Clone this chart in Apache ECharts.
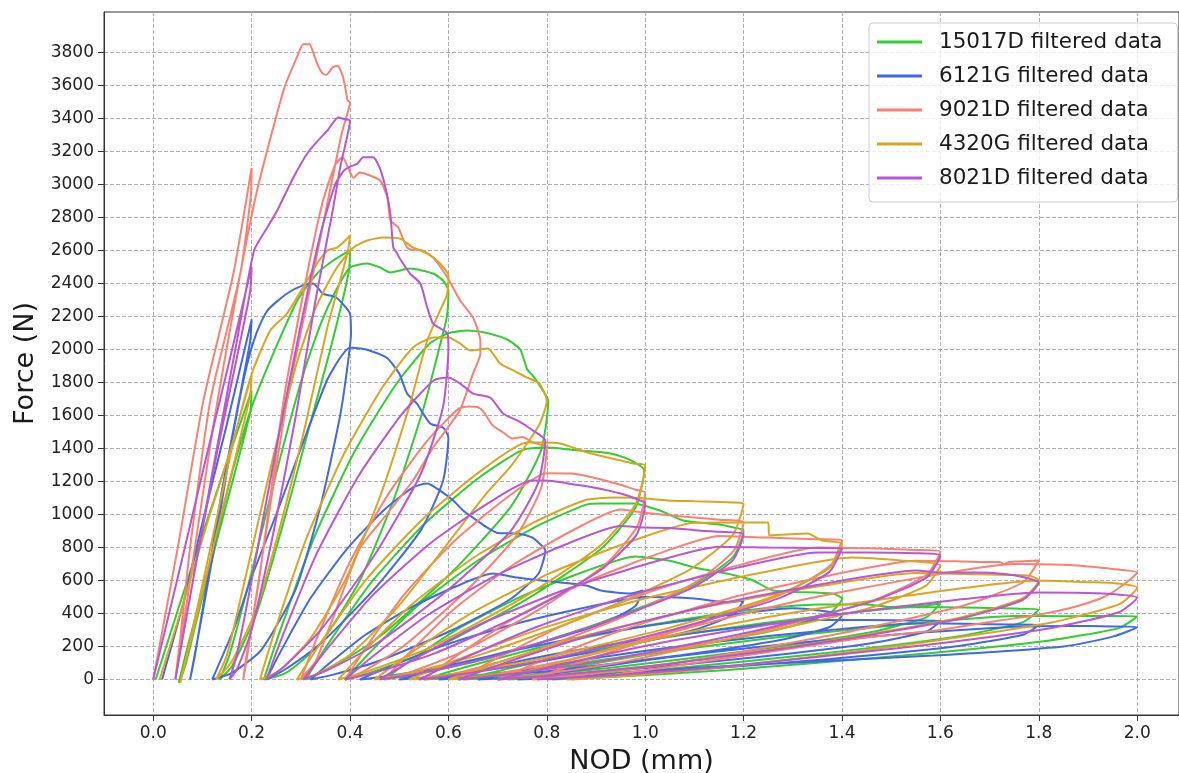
<!DOCTYPE html>
<html><head><meta charset="utf-8">
<script src="https://cdn.jsdelivr.net/npm/echarts@6/dist/echarts.min.js"></script>
<style>html,body{margin:0;padding:0;background:#fff}#c{width:1179px;height:773px}</style>
</head><body><div id="c"></div>
<script>
const xTicks = [0,0.2,0.4,0.6,0.8,1.0,1.2,1.4,1.6,1.8,2.0];
const yTicks = [0,200,400,600,800,1000,1200,1400,1600,1800,2000,2200,2400,2600,2800,3000,3200,3400,3600,3800];
const seriesNames = ['15017D filtered data','6121G filtered data','9021D filtered data','4320G filtered data','8021D filtered data'];
const seriesColors = ['#32cd32','#4169e1','#fa8072','#daa520','#ba55d3'];

const s15017D = [[0.005,0],[0.05,420],[0.1,880],[0.15,1320],[0.2,1750],
[0.197,1620],[0.17,1300],[0.13,850],[0.09,380],[0.065,80],[0.052,-20],
[0.07,200],[0.11,650],[0.16,1250],[0.2,1650],[0.244,1975],[0.293,2297],[0.333,2460],[0.366,2539],[0.4,2600],
[0.398,2480],[0.385,2300],[0.36,2000],[0.31,1450],[0.26,900],[0.21,400],[0.16,80],[0.135,0],
[0.155,150],[0.2,650],[0.25,1250],[0.3,1800],[0.34,2150],[0.37,2350],[0.4,2497],[0.435,2521],[0.461,2497],[0.482,2467],[0.522,2490],[0.569,2460],[0.589,2418],[0.6,2357],
[0.597,2200],[0.585,2050],[0.55,1650],[0.49,1100],[0.42,600],[0.34,220],[0.27,40],[0.225,0],
[0.259,305],[0.326,853],[0.409,1380],[0.493,1786],[0.56,2030],[0.598,2097],[0.638,2115],[0.679,2100],[0.72,2060],[0.746,2000],[0.76,1880],[0.772,1840],[0.79,1760],[0.803,1690],
[0.788,1386],[0.727,1048],[0.604,641],[0.457,253],[0.359,68],[0.31,0],
[0.354,209],[0.442,584],[0.552,945],[0.662,1223],[0.75,1390],[0.8,1406],[0.866,1388],[0.93,1370],[0.97,1330],[0.998,1267],
[0.98,1039],[0.908,786],[0.756,481],[0.573,190],[0.451,51],[0.39,0],
[0.439,159],[0.537,445],[0.66,721],[0.782,933],[0.88,1060],[0.91,1067],[0.976,1067],[1.03,1024],[1.077,964],[1.15,940],[1.18,921],[1.2,903],
[1.178,740],[1.09,560],[0.908,343],[0.689,135],[0.543,36],[0.47,0],
[0.521,112],[0.623,313],[0.751,507],[0.878,656],[0.98,745],[1.05,720],[1.1,679],[1.17,640],[1.2,618],[1.22,600],[1.26,540],[1.38,521],[1.4,490],
[1.375,402],[1.273,304],[1.06,186],[0.805,74],[0.635,20],[0.55,0],
[0.63,71],[0.79,197],[0.99,320],[1.19,414],[1.35,455],[1.45,455],[1.5,440],[1.56,445],[1.6,460],
[1.571,377],[1.455,285],[1.212,175],[0.921,69],[0.727,18],[0.63,0],
[0.722,66],[0.906,185],[1.136,299],[1.366,387],[1.55,440],[1.65,436],[1.75,430],[1.8,424],
[1.768,348],[1.638,263],[1.368,161],[1.044,64],[0.828,17],[0.72,0],
[0.823,58],[1.029,162],[1.287,262],[1.544,339],[1.75,385],[1.85,384],[1.95,385],[2.0,382],
[1.964,313],[1.822,237],[1.524,145],[1.167,57],[0.929,15],[0.81,0]];

const s6121G = [[0.018,0],[0.06,450],[0.1,950],[0.15,1550],[0.2,2180],
[0.197,2050],[0.175,1700],[0.14,1150],[0.11,600],[0.085,150],[0.075,0],
[0.1,400],[0.13,900],[0.16,1450],[0.19,1900],[0.21,2100],[0.232,2236],[0.272,2339],[0.305,2390],[0.325,2400],[0.345,2339],[0.372,2315],[0.39,2260],[0.4,2218],[0.402,2100],
[0.395,1900],[0.38,1600],[0.34,1050],[0.29,550],[0.22,180],[0.16,40],[0.12,0],
[0.163,300],[0.2,620],[0.25,1000],[0.3,1400],[0.353,1812],[0.38,1950],[0.4,2012],[0.433,2000],[0.474,1951],[0.5,1855],[0.516,1733],[0.536,1672],[0.563,1551],[0.589,1527],[0.6,1467],
[0.589,1203],[0.545,910],[0.452,557],[0.341,220],[0.267,59],[0.23,0],
[0.26,175],[0.319,489],[0.394,792],[0.468,1024],[0.528,1164],[0.557,1188],[0.583,1145],[0.61,1085],[0.63,1024],[0.658,964],[0.679,921],[0.7,888],[0.74,885],[0.77,861],[0.785,824],[0.797,782],
[0.783,641],[0.725,485],[0.606,297],[0.463,117],[0.368,31],[0.32,0],
[0.357,96],[0.431,270],[0.524,437],[0.616,565],[0.69,642],[0.74,618],[0.79,600],[0.88,570],[0.91,539],[0.97,521],[0.996,539],
[0.979,442],[0.91,334],[0.766,205],[0.593,81],[0.478,22],[0.42,0],
[0.478,75],[0.594,210],[0.739,340],[0.884,440],[1.0,500],[1.1,491],[1.17,467],[1.2,479],
[1.179,393],[1.095,297],[0.92,182],[0.71,72],[0.57,19],[0.5,0],
[0.58,65],[0.74,181],[0.94,294],[1.14,380],[1.3,432],[1.35,420],[1.4,388],
[1.375,318],[1.277,241],[1.072,147],[0.826,58],[0.662,16],[0.58,0],
[0.657,54],[0.811,151],[1.004,245],[1.196,317],[1.35,360],[1.45,360],[1.55,358],[1.6,355],
[1.572,291],[1.459,220],[1.224,135],[0.942,53],[0.754,14],[0.66,0],
[0.749,51],[0.927,143],[1.15,231],[1.372,299],[1.55,340],[1.65,338],[1.75,333],[1.8,330],
[1.768,271],[1.641,205],[1.376,125],[1.058,50],[0.846,13],[0.74,0],
[0.841,48],[1.043,134],[1.296,218],[1.548,282],[1.75,320],[1.85,325],[1.95,322],[2.0,317],
[1.95,260],[1.85,200],[1.585,145],[1.11,73],[0.9,25],[0.82,5],[0.8,0]];

const s9021D = [[0,0],[0.05,800],[0.102,1690],[0.163,2460],[0.2,3100],
[0.199,2950],[0.177,2460],[0.116,1690],[0.075,800],[0.055,250],[0.045,0],
[0.07,500],[0.12,1500],[0.17,2350],[0.21,2950],[0.24,3300],[0.267,3590],[0.292,3770],[0.305,3850],[0.318,3850],[0.325,3800],[0.335,3720],[0.345,3670],[0.352,3665],[0.365,3710],[0.375,3720],[0.385,3660],[0.392,3560],[0.395,3510],[0.4,3500],
[0.385,3330],[0.38,3266],[0.325,2460],[0.272,1690],[0.235,1000],[0.205,420],[0.19,120],[0.183,0],
[0.19,150],[0.215,600],[0.265,1690],[0.313,2460],[0.345,2900],[0.37,3120],[0.385,3165],[0.395,3110],[0.407,3040],[0.42,3073],[0.441,3054],[0.461,3024],[0.476,2921],[0.482,2782],[0.498,2739],[0.518,2612],[0.547,2600],[0.569,2557],[0.598,2436],[0.624,2297],[0.65,2194],[0.66,2115],[0.665,2054],[0.665,1976],
[0.65,1854],[0.623,1630],[0.569,1406],[0.528,1206],[0.476,1006],[0.421,800],[0.394,600],[0.36,330],[0.33,110],[0.305,20],[0.3,0],
[0.332,246],[0.396,689],[0.476,1115],[0.556,1443],[0.62,1640],[0.64,1655],[0.66,1650],[0.672,1620],[0.69,1540],[0.71,1500],[0.73,1460],[0.75,1470],[0.77,1440],[0.79,1420],[0.8,1410],
[0.788,1156],[0.739,874],[0.636,536],[0.513,212],[0.431,56],[0.39,0],
[0.431,188],[0.513,525],[0.616,850],[0.718,1100],[0.8,1250],[0.85,1248],[0.9,1220],[0.95,1180],[0.98,1150],[1.0,1133],
[0.984,929],[0.921,702],[0.788,431],[0.629,170],[0.523,45],[0.47,0],
[0.518,155],[0.614,433],[0.734,700],[0.854,906],[0.95,1030],[1.0,1010],[1.05,995],[1.1,982],[1.15,968],[1.2,952],
[1.18,781],[1.103,590],[0.94,362],[0.745,143],[0.615,38],[0.55,0],
[0.61,131],[0.73,365],[0.88,592],[1.03,766],[1.15,870],[1.25,860],[1.35,850],[1.4,845],
[1.377,693],[1.283,524],[1.088,321],[0.854,127],[0.698,34],[0.62,0],
[0.693,120],[0.839,336],[1.022,544],[1.204,704],[1.35,800],[1.45,795],[1.55,785],[1.6,776],
[1.573,636],[1.465,481],[1.24,295],[0.97,116],[0.79,31],[0.7,0],
[0.785,108],[0.955,302],[1.168,490],[1.38,634],[1.55,720],[1.65,715],[1.7,712],[1.72,712],[1.73,700],[1.74,712],[1.8,721],
[1.769,591],[1.646,447],[1.388,274],[1.079,108],[0.873,29],[0.77,0],
[0.868,105],[1.064,294],[1.309,476],[1.554,616],[1.75,700],[1.85,695],[1.9,685],[1.95,670],[2.0,648],
[1.97,570],[1.93,497],[1.86,430],[1.79,388],[1.72,358],[1.59,297],[1.45,255],[1.31,194],[1.1,100],[0.95,35],[0.87,5],[0.85,0]];

const s4320G = [[0.013,0],[0.06,450],[0.11,950],[0.16,1420],[0.2,1850],
[0.197,1720],[0.17,1380],[0.13,900],[0.09,400],[0.065,100],[0.055,-20],
[0.08,300],[0.12,850],[0.16,1400],[0.2,1850],[0.238,2115],[0.272,2218],[0.313,2418],[0.333,2521],[0.354,2600],[0.374,2618],[0.386,2648],[0.4,2691],
[0.396,2600],[0.38,2418],[0.354,2133],[0.31,1550],[0.26,950],[0.21,430],[0.16,110],[0.128,0],
[0.15,150],[0.19,650],[0.24,1300],[0.29,1900],[0.33,2250],[0.37,2480],[0.407,2618],[0.435,2660],[0.467,2679],[0.502,2672],[0.528,2618],[0.557,2582],[0.583,2521],[0.6,2448],
[0.597,2330],[0.583,2236],[0.557,2054],[0.52,1650],[0.46,1100],[0.39,600],[0.32,250],[0.255,50],[0.217,0],
[0.248,302],[0.31,845],[0.388,1368],[0.466,1771],[0.528,2012],[0.57,2072],[0.6,2072],[0.624,2036],[0.645,1994],[0.68,2006],[0.705,1915],[0.732,1873],[0.76,1830],[0.785,1793],[0.8,1690],
[0.786,1551],[0.76,1430],[0.725,1285],[0.677,1127],[0.6,830],[0.5,450],[0.4,150],[0.33,30],[0.292,0],
[0.339,215],[0.432,603],[0.549,976],[0.666,1264],[0.76,1436],[0.787,1436],[0.827,1430],[0.882,1376],[0.923,1346],[0.976,1309],[1.0,1297],
[0.981,1064],[0.906,804],[0.75,493],[0.563,195],[0.438,52],[0.376,0],
[0.426,163],[0.526,456],[0.651,738],[0.776,955],[0.876,1085],[0.937,1103],[0.99,1100],[1.045,1085],[1.1,1080],[1.178,1073],[1.2,1067],
[1.178,875],[1.088,662],[0.9,405],[0.675,160],[0.525,43],[0.45,0],
[0.515,143],[0.645,399],[0.808,646],[0.97,836],[1.1,950],[1.2,952],[1.25,952],[1.252,873],[1.33,885],[1.36,842],[1.4,824],
[1.374,676],[1.268,511],[1.048,313],[0.784,124],[0.608,33],[0.52,0],
[0.61,111],[0.79,310],[1.015,503],[1.24,650],[1.42,739],[1.52,721],[1.6,691],
[1.57,567],[1.45,428],[1.2,263],[0.9,104],[0.7,28],[0.6,0],
[0.695,97],[0.885,271],[1.123,439],[1.36,568],[1.55,645],[1.6,642],[1.7,636],[1.78,630],[1.8,600],
[1.767,492],[1.635,372],[1.36,228],[1.03,90],[0.81,24],[0.7,0],
[0.81,90],[1.03,252],[1.305,408],[1.58,528],[1.8,600],[1.9,590],[1.95,585],[2.0,558],
[1.965,458],[1.826,346],[1.536,212],[1.188,84],[0.956,22],[0.84,0]];

const s8021D = [[0,0],[0.05,620],[0.1,1250],[0.15,1870],[0.2,2500],
[0.197,2350],[0.17,1950],[0.13,1380],[0.09,750],[0.06,250],[0.045,0],
[0.07,420],[0.12,1250],[0.17,2050],[0.205,2600],[0.23,2730],[0.252,2842],[0.285,3042],[0.313,3188],[0.333,3260],[0.355,3330],[0.376,3406],[0.39,3395],[0.4,3388],
[0.395,3300],[0.38,3103],[0.366,2860],[0.33,2300],[0.29,1600],[0.245,900],[0.2,300],[0.17,60],[0.155,0],
[0.17,150],[0.2,600],[0.25,1400],[0.3,2150],[0.34,2700],[0.37,3000],[0.39,3090],[0.415,3127],[0.427,3165],[0.447,3165],[0.46,3103],[0.472,2982],[0.482,2824],[0.488,2618],[0.496,2582],[0.5,2557],[0.522,2460],[0.543,2400],[0.557,2254],[0.569,2157],[0.598,2097],[0.6,2012],
[0.589,1650],[0.544,1247],[0.452,764],[0.341,302],[0.267,80],[0.23,0],
[0.264,272],[0.332,761],[0.417,1232],[0.502,1595],[0.57,1812],[0.6,1830],[0.624,1793],[0.65,1733],[0.685,1709],[0.711,1612],[0.74,1570],[0.772,1509],[0.797,1448],
[0.782,1187],[0.726,898],[0.602,550],[0.454,217],[0.355,58],[0.305,0],
[0.352,181],[0.445,507],[0.561,820],[0.677,1061],[0.77,1206],[0.8,1206],[0.84,1190],[0.895,1164],[0.95,1127],[0.99,1085],[1.0,1067],
[0.982,875],[0.909,662],[0.756,405],[0.573,160],[0.451,43],[0.39,0],
[0.446,140],[0.558,391],[0.698,632],[0.838,818],[0.95,930],[1.0,921],[1.05,918],[1.1,905],[1.15,895],[1.2,880],
[1.178,722],[1.089,546],[0.904,334],[0.682,132],[0.534,35],[0.46,0],
[0.529,121],[0.667,338],[0.84,547],[1.012,708],[1.15,805],[1.25,800],[1.35,797],[1.4,794],
[1.374,651],[1.271,492],[1.056,302],[0.798,119],[0.626,32],[0.54,0],
[0.621,116],[0.783,323],[0.986,524],[1.188,678],[1.35,770],[1.45,770],[1.55,765],[1.6,751],
[1.571,616],[1.453,466],[1.208,285],[0.914,113],[0.718,30],[0.62,0],
[0.713,99],[0.899,277],[1.132,449],[1.364,581],[1.55,660],[1.6,648],[1.67,648],[1.73,640],[1.77,620],[1.8,588],
[1.767,482],[1.635,365],[1.36,223],[1.03,88],[0.81,24],[0.7,0],
[0.81,79],[1.03,221],[1.305,358],[1.58,464],[1.8,527],[1.9,525],[1.96,515],[2.0,497],
[1.963,408],[1.817,308],[1.512,189],[1.146,75],[0.902,20],[0.78,0]];

const seriesData = [s15017D, s6121G, s9021D, s4320G, s8021D];
const FONT = 'DejaVu Sans';

const chart = echarts.init(document.getElementById('c'), null, {renderer:'canvas'});
chart.setOption({
  animation: false,
  backgroundColor: '#ffffff',
  grid: {left:104, right:0, top:12, bottom:58, outerBoundsMode:'none', containLabel:false,
         show:true, borderColor:'#333', borderWidth:1, backgroundColor:'transparent'},
  legend: {
    orient:'vertical', left:869, top:23,
    padding:[7,15,12,8], itemGap:10, itemWidth:45, itemHeight:3, icon:'rect',
    backgroundColor:'rgba(255,255,255,0.8)', borderColor:'#cccccc', borderWidth:1, borderRadius:4,
    textStyle:{fontFamily:FONT, fontSize:21.5, color:'#1a1a1a', lineHeight:24, padding:[0,0,0,12]},
    data: seriesNames
  },
  xAxis: {
    type:'value', min:-0.1, max:2.085,
    name:'NOD (mm)', nameLocation:'middle', nameGap:33,
    nameTextStyle:{fontFamily:FONT, fontSize:27, color:'#1a1a1a'},
    axisLine:{show:true, onZero:false, lineStyle:{color:'#333', width:1}},
    axisTick:{show:true, length:6, customValues:xTicks, lineStyle:{color:'#333'}},
    axisLabel:{customValues:xTicks, fontFamily:FONT, fontSize:17, color:'#222', margin:10, formatter:(v)=>v.toFixed(1)},
    splitLine:{show:true, lineStyle:{color:'#b0b0b0', type:[4,2], width:1}}
  },
  yAxis: {
    type:'value', min:-215, max:4045,
    name:'Force (N)', nameLocation:'middle', nameGap:52, nameRotate:90,
    nameTextStyle:{fontFamily:FONT, fontSize:27, color:'#1a1a1a'},
    axisLine:{show:true, onZero:false, lineStyle:{color:'#333', width:1}},
    axisTick:{show:true, length:6, customValues:yTicks, lineStyle:{color:'#333'}},
    axisLabel:{customValues:yTicks, fontFamily:FONT, fontSize:17, color:'#222', margin:10, formatter:(v)=>String(Math.round(v))},
    splitLine:{show:true, lineStyle:{color:'#b0b0b0', type:[4,2], width:1}}
  },
  series: seriesNames.map((n,i)=>({
    name:n, type:'line', data:seriesData[i], showSymbol:false, symbol:'none',
    lineStyle:{width:2, color:seriesColors[i]}, itemStyle:{color:seriesColors[i]},
    smooth:0.2, silent:true, clip:true
  }))
});
</script>
</body></html>
